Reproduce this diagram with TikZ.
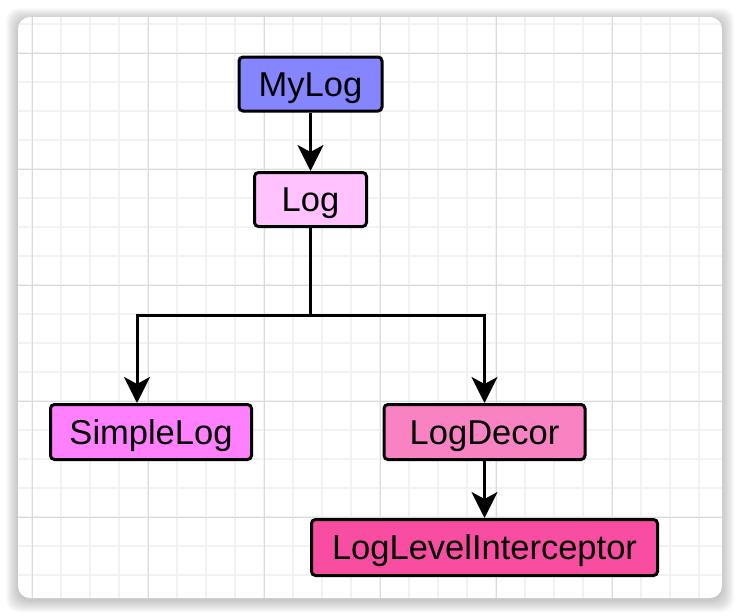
\documentclass[tikz,border=0pt]{standalone}
\usepackage{fontspec}
\setmainfont{Liberation Sans}
\usetikzlibrary{arrows.meta}
\definecolor{mylogblue}{HTML}{8585FF}
\definecolor{logpink}{HTML}{FFC2FF}
\definecolor{simplepink}{HTML}{FF80FF}
\definecolor{decorpink}{HTML}{F882C2}
\definecolor{interpink}{HTML}{F84DA1}
\definecolor{gridminor}{HTML}{F2F2F2}
\definecolor{gridmajor}{HTML}{DADADA}
\begin{document}
\begin{tikzpicture}[x=1pt,y=-1pt,
  box/.style={draw=black,line width=3pt,rounded corners=4pt,inner sep=0pt,
    text height=24.5pt,text depth=0pt,font=\fontsize{34.5}{40}\selectfont},
  arr/.style={line width=3pt,-{Stealth[length=26pt,width=26pt,inset=7pt]}}]
  \useasboundingbox (0,0) rectangle (740,616);
  % card with shadow
  \foreach \i in {1,...,12}
    \fill[black,opacity=0.018,rounded corners=12pt] (18-\i,17-\i+3) rectangle (722+\i,598+\i+2);
  \fill[white,rounded corners=12pt] (18,17) rectangle (722,598);
  \begin{scope}
    \clip[rounded corners=12pt] (18,17) rectangle (722,598);
    \foreach \x in {32,61,...,722} \draw[gridminor,line width=1.5pt] (\x,17) -- (\x,598);
    \foreach \y in {24,53,...,598} \draw[gridminor,line width=1.5pt] (18,\y) -- (722,\y);
    \foreach \x in {32,148,...,722} \draw[gridmajor,line width=1pt] (\x,17) -- (\x,598);
    \foreach \y in {53,169,...,598} \draw[gridmajor,line width=1pt] (18,\y) -- (722,\y);
  \end{scope}
  % classes
  \node[box,fill=mylogblue,minimum width=143pt,minimum height=54pt] (mylog) at (310.5,84) {MyLog};
  \node[box,fill=logpink,minimum width=112pt,minimum height=54pt] (log) at (310.5,199.5) {Log};
  \node[box,fill=simplepink,minimum width=201pt,minimum height=55pt] (simplelog) at (151,432) {SimpleLog};
  \node[box,fill=decorpink,minimum width=201pt,minimum height=55pt] (logdecor) at (484.5,432) {LogDecor};
  \node[box,fill=interpink,minimum width=346pt,minimum height=56pt] (interceptor) at (484.5,547.5) {LogLevelInterceptor};
  \coordinate (split) at (310.5,315);
  % links
  \draw[arr] (mylog) -- (log);
  \draw[line width=3pt] (log.south) -- (split);
  \draw[arr] (split) -| ([xshift=-14pt]simplelog.north);
  \draw[arr] (split) -| (logdecor.north);
  \draw[arr] (logdecor) -- (interceptor);
\end{tikzpicture}
\end{document}
